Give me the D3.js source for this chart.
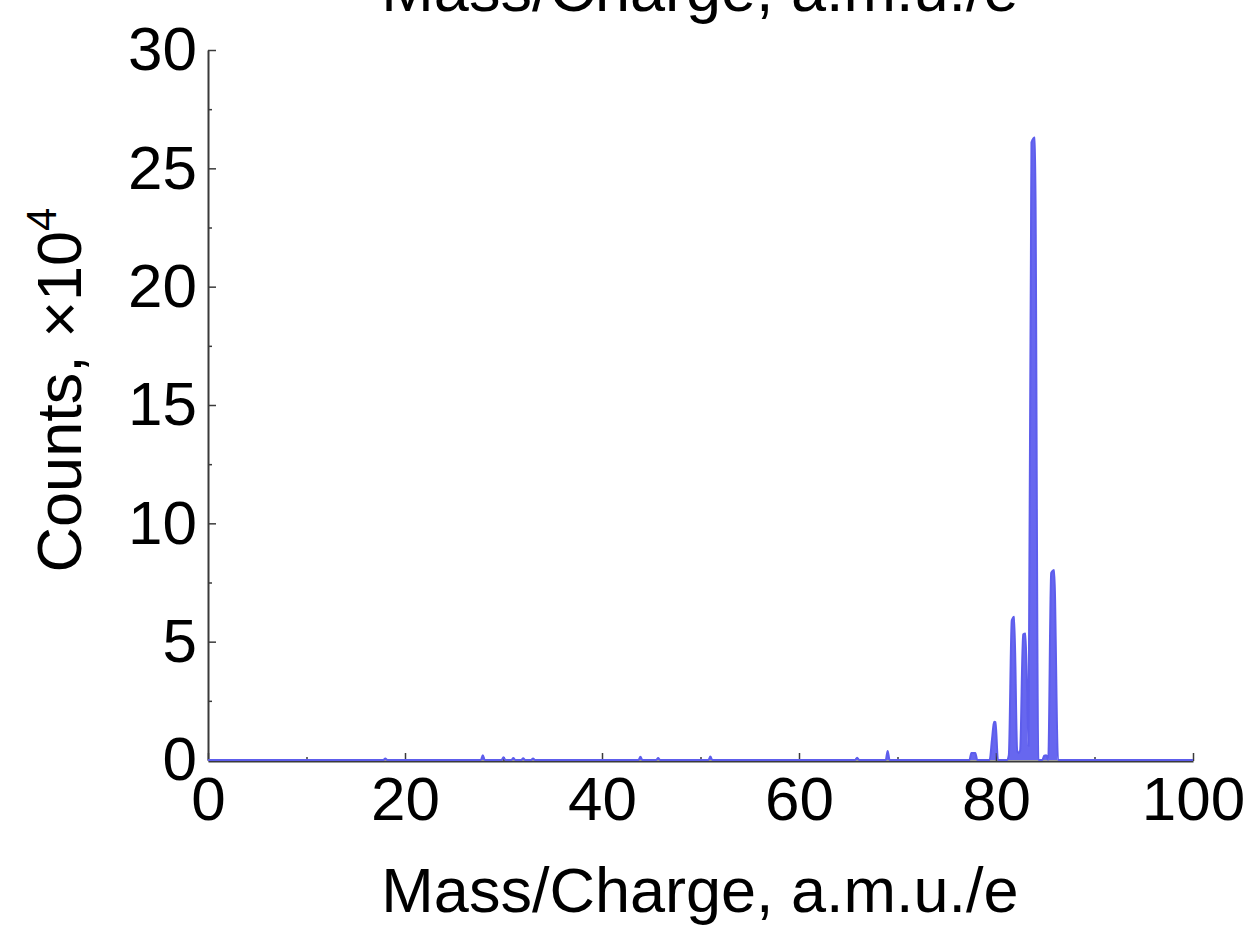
<!DOCTYPE html>
<html>
<head>
<meta charset="utf-8">
<script src="https://cdn.jsdelivr.net/npm/d3@7"></script>
<style>
  body { margin: 0; background: #fff; }
  svg { display: block; font-family: "Liberation Sans", Arial, sans-serif; }
</style>
</head>
<body>
<div id="chart"></div>
<script>
// spectrum, mass/charge (a.m.u./e) and counts (x10^4)
const massCharge = [
  0, 17.8, 18, 18.2,
  27.7, 27.9, 28.1,
  29.8, 30, 30.2, 30.8, 31, 31.2, 31.8, 32, 32.2, 32.8, 33, 33.2,
  43.7, 43.9, 44.1, 45.5, 45.7, 45.9,
  50.8, 51, 51.2, 65.7, 65.9, 66.1, 68.8, 69, 69.2,
  77.3, 77.5, 77.9, 78.1,
  79.35, 79.6, 79.8, 79.95, 80.2,
  81.1, 81.3, 81.6, 81.85, 82.15, 82.3,
  82.45, 82.75, 83.0, 83.3,
  83.6, 83.95, 84.3,
  84.7, 84.9, 85.1, 85.3,
  85.6, 85.9, 86.3,
  100
];
const counts = [
  0, 0, 0.06, 0,
  0, 0.2, 0,
  0, 0.12, 0, 0, 0.08, 0, 0, 0.07, 0, 0, 0.06, 0,
  0, 0.14, 0, 0, 0.08, 0,
  0, 0.15, 0, 0, 0.1, 0, 0, 0.38, 0,
  0, 0.3, 0.3, 0,
  0, 0.9, 1.62, 1.6, 0,
  0, 0.2, 5.9, 6.05, 0.4, 0.3,
  0.4, 5.3, 5.35, 0.6,
  26.1, 26.3, 0,
  0, 0.18, 0.2, 0,
  7.9, 8.03, 0,
  0
];
const xTicks = [0, 20, 40, 60, 80, 100];
const xMinorTicks = [10, 30, 50, 70, 90];
const yTicks = [0, 5, 10, 15, 20, 25, 30];
const yMinorTicks = [2.5, 7.5, 12.5, 17.5, 22.5, 27.5];

const width = 1250, height = 931;
const margin = {left: 208, right: 57, top: 50, bottom: 171};

const svg = d3.select('#chart')
  .append('svg')
  .attr('width', width)
  .attr('height', height);

const x = d3.scaleLinear().domain([0, 100]).range([margin.left, width - margin.right]);
const y = d3.scaleLinear().domain([0, 30]).range([height - margin.bottom, margin.top]);

const points = massCharge.map((m, i) => [m, counts[i]]);

// filled spectrum
svg.append('path')
  .datum(points)
  .attr('d', d3.area().x(d => x(d[0])).y0(y(0)).y1(d => y(d[1])).curve(d3.curveMonotoneX))
  .style('fill', '#6767ef');

// axes
const axisColor = '#3a3a3a';
svg.append('g')
  .attr('transform', `translate(0,${y(0) + 1})`)
  .call(d3.axisBottom(x).tickValues(xTicks).tickSize(-8).tickSizeOuter(0).tickPadding(15).tickFormat(d3.format('d')));
svg.append('g')
  .attr('transform', `translate(0,${y(0) + 1})`)
  .call(d3.axisBottom(x).tickValues(xMinorTicks).tickSize(-4).tickFormat(''))
  .select('.domain').remove();

svg.append('g')
  .attr('transform', `translate(${x(0)},0)`)
  .call(d3.axisLeft(y).tickValues(yTicks).tickSize(-8).tickSizeOuter(0).tickPadding(11).tickFormat(d3.format('d')));
svg.append('g')
  .attr('transform', `translate(${x(0)},0)`)
  .call(d3.axisLeft(y).tickValues(yMinorTicks).tickSize(-4).tickFormat(''))
  .select('.domain').remove();

svg.selectAll('.domain').style('stroke', axisColor).style('stroke-width', 2);
svg.selectAll('.tick line').style('stroke', axisColor).style('stroke-width', 1.5);
svg.selectAll('.tick text').style('font-size', '62px').style('fill', '#000')
  .style('font-family', '"Liberation Sans", Arial, sans-serif');

// spectrum outline drawn over the baseline
svg.append('path')
  .datum(points)
  .attr('d', d3.line().x(d => x(d[0])).y(d => y(d[1])).curve(d3.curveMonotoneX))
  .style('fill', 'none')
  .style('stroke', '#5d5dec')
  .style('stroke-width', 2);

// labels
svg.append('text')
  .text('Mass/Charge, a.m.u./e')
  .attr('x', 700)
  .attr('y', 912)
  .attr('text-anchor', 'middle')
  .style('font-size', '63px');

// top copy of the axis title, cut by the page edge as in the original
svg.append('text')
  .text('Mass/Charge, a.m.u./e')
  .attr('x', 700)
  .attr('y', 11)
  .attr('text-anchor', 'middle')
  .style('font-size', '63px');

const ylab = svg.append('text')
  .attr('transform', 'translate(81,390) rotate(-90)')
  .attr('text-anchor', 'middle')
  .style('font-size', '63px');
ylab.append('tspan').text('Counts, \u00d710');
ylab.append('tspan').text('4').attr('dy', -25).style('font-size', '42px');
</script>
</body>
</html>
